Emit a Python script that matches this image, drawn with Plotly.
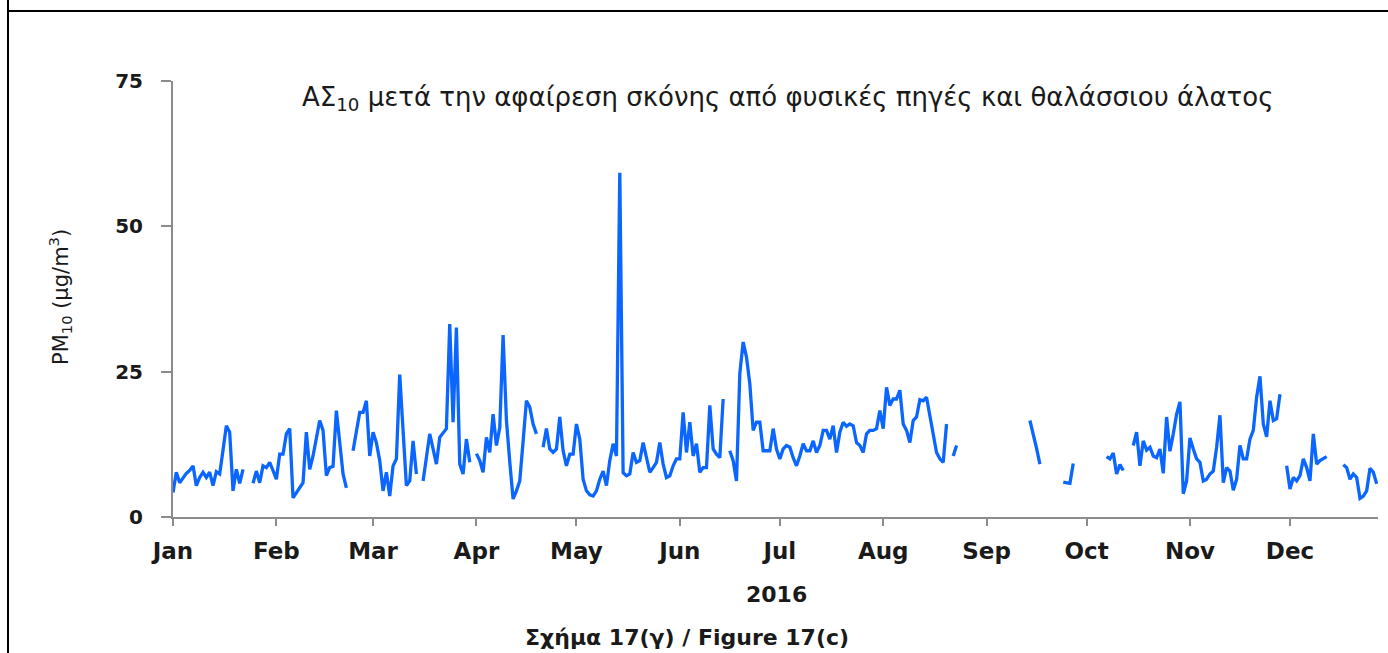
import pandas as pd
import plotly.graph_objects as go

# ---- figure geometry (pixels) ----
FIG_W, FIG_H = 1388, 653
M_L, M_R, M_T, M_B = 173, 10, 81, 136
PLOT_W = FIG_W - M_L - M_R
PLOT_H = FIG_H - M_T - M_B


def px_x(x):
    return (x - M_L) / PLOT_W


def px_y(y):
    return (FIG_H - M_B - y) / PLOT_H


# ---- daily PM10 (ug/m3), 2016, after removal of natural dust and sea salt ----
# each block is a run of consecutive days starting on the given date
start_0101 = "2016-01-01"
pm_0101 = [4.2, 7.7, 5.9, 6.8, 7.5, 8.0, 8.8, 5.4, 6.8, 7.7, 6.8, 7.7, 5.4, 7.8, 7.4,
           11.5, 15.7, 14.6, 4.5, 8.2, 5.8, 8.2]
start_0125 = "2016-01-25"
pm_0125 = [5.8, 7.9, 5.9, 8.8, 8.5, 9.4, 8.0, 6.5, 10.8, 10.8, 14.3, 15.2, 3.3, 4.2, 5.0,
           5.9, 14.6, 8.2, 10.5, 13.5, 16.6, 14.9, 7.1, 8.5, 8.7, 18.3, 13.1, 7.4, 5.0]
start_0224 = "2016-02-24"
pm_0224 = [11.4, 14.9, 18.0, 18.0, 20.0, 10.5, 14.6, 12.8, 9.7, 4.5, 7.7, 3.6, 8.8, 10.0,
           24.5, 14.9, 5.4, 6.2, 13.1, 7.4]
start_0316 = "2016-03-16"
pm_0316 = [6.2, 10.2, 14.3, 11.7, 9.1, 13.7, 14.5, 15.2, 33.2, 16.3, 32.6, 9.1, 7.4, 13.4, 9.4]
start_0401 = "2016-04-01"
pm_0401 = [10.9, 9.7, 7.7, 13.7, 11.1, 17.7, 12.3, 15.4, 31.3, 16.6, 9.5, 3.1, 4.5, 6.2,
           13.0, 20.0, 18.9, 16.0, 14.3]
start_0421 = "2016-04-21"
pm_0421 = [12.0, 15.2, 11.7, 11.1, 11.7, 17.2, 11.4, 8.8, 10.8, 10.8, 16.0, 13.4, 6.5, 4.5,
           3.8, 3.6, 4.5, 6.5, 7.9, 5.4, 9.7, 12.6, 10.5, 59.2, 7.6, 7.1, 7.4, 11.1, 9.4,
           9.7, 12.8, 10.2, 7.7, 8.5, 9.4, 12.8, 9.1, 6.8, 7.1, 8.8, 10.0, 10.0, 18.0, 11.1,
           16.3, 10.5, 12.6, 7.7, 8.5, 8.5, 19.2, 11.7, 10.8, 10.2, 20.3]
start_0616 = "2016-06-16"
pm_0616 = [11.4, 9.7, 6.2, 24.7, 30.1, 27.5, 22.9, 14.9, 16.3, 16.3, 11.4, 11.4, 11.4, 15.2,
           11.7, 10.0, 11.7, 12.3, 12.0, 10.2, 8.8, 10.5, 12.6, 11.4, 11.4, 13.1, 11.1, 12.3,
           14.9, 14.9, 13.4, 15.7, 11.1, 14.6, 16.3, 15.6, 16.0, 15.7, 12.8, 12.3, 11.1, 14.3,
           14.9, 14.9, 15.2, 18.3, 15.2, 22.3, 19.2, 20.3, 20.3, 21.8, 16.0, 14.9, 12.8, 16.6,
           17.2, 20.2, 20.0, 20.6, 17.2, 13.7, 11.1, 10.0, 9.4, 16.0]
start_0822 = "2016-08-22"
pm_0822 = [10.5, 12.3]
start_0914 = "2016-09-14"
pm_0914 = [16.6, 14.3, 11.8, 9.1]
start_0924 = "2016-09-24"
pm_0924 = [6.0, 5.9, 5.8, 9.2]
start_1007 = "2016-10-07"
pm_1007 = [10.4, 10.0, 11.0, 7.4, 9.0, 8.0]
start_1015 = "2016-10-15"
pm_1015 = [12.3, 14.6, 8.8, 13.1, 11.5, 12.0, 10.5, 10.2, 11.7, 7.5, 17.2, 11.3, 14.3, 17.7,
           19.8, 4.0, 6.2, 13.6, 11.7, 10.0, 9.4, 6.2, 6.5, 7.4, 7.9, 12.0, 17.5, 5.9, 8.5,
           7.9, 4.6, 6.5, 12.3, 10.0, 10.0, 13.4, 14.9, 20.6, 24.2, 16.0, 13.8, 20.0, 16.6,
           16.9, 21.1]
start_1130 = "2016-11-30"
pm_1130 = [8.8, 4.8, 6.8, 6.2, 7.1, 10.0, 8.5, 6.2, 14.3, 9.1, 9.7, 10.0, 10.4]
start_1217 = "2016-12-17"
pm_1217 = [9.0, 8.5, 6.5, 7.4, 6.8, 3.2, 3.6, 4.5, 8.4, 7.7, 5.7]

month_ticks = [f"2016-{m:02d}-01" for m in range(1, 13)]
month_labels = ["Jan", "Feb", "Mar", "Apr", "May", "Jun",
                "Jul", "Aug", "Sep", "Oct", "Nov", "Dec"]
y_ticks = [0, 25, 50, 75]

runs = [
    (start_0101, pm_0101), (start_0125, pm_0125), (start_0224, pm_0224),
    (start_0316, pm_0316), (start_0401, pm_0401), (start_0421, pm_0421),
    (start_0616, pm_0616), (start_0822, pm_0822), (start_0914, pm_0914),
    (start_0924, pm_0924), (start_1007, pm_1007), (start_1015, pm_1015),
    (start_1130, pm_1130), (start_1217, pm_1217),
]

# join the runs into one series; a None after each run breaks the line
xs, ys = [], []
for start, vals in runs:
    days = pd.date_range(start, periods=len(vals), freq="D")
    xs.extend(d.strftime("%Y-%m-%d") for d in days)
    ys.extend(vals)
    xs.append((days[-1] + pd.Timedelta(days=1)).strftime("%Y-%m-%d"))
    ys.append(None)

AXIS_GREY = "#8c8c8c"
TEXT = "#1a1a1a"
FONT = "DejaVu Sans"

fig = go.Figure()
fig.add_trace(go.Scatter(
    x=xs, y=ys, mode="lines", connectgaps=False,
    line=dict(color="#0a66ff", width=3.3),
    hoverinfo="skip", showlegend=False,
))

fig.update_layout(
    width=FIG_W, height=FIG_H,
    margin=dict(l=M_L, r=M_R, t=M_T, b=M_B, pad=0),
    paper_bgcolor="white", plot_bgcolor="white",
    font=dict(family=FONT, color=TEXT),
    xaxis=dict(
        type="date",
        range=["2016-01-01", "2016-12-27 09:36"],
        tickvals=month_ticks, ticktext=month_labels,
        ticks="outside", ticklen=7, tickwidth=2, tickcolor=AXIS_GREY,
        showline=True, linecolor=AXIS_GREY, linewidth=2,
        showgrid=False, zeroline=False,
        tickfont=dict(family=FONT, size=23, color=TEXT, weight="bold"),
        ticklabelstandoff=5,
    ),
    yaxis=dict(
        range=[0, 75],
        tickvals=y_ticks,
        ticks="outside", ticklen=10, tickwidth=2, tickcolor=AXIS_GREY,
        showline=True, linecolor=AXIS_GREY, linewidth=2,
        showgrid=False, zeroline=False,
        tickfont=dict(family=FONT, size=20, color=TEXT, weight="bold"),
        ticklabelstandoff=14,
    ),
)

annotations = [
    dict(text="ΑΣ<sub>10</sub> μετά την αφαίρεση σκόνης από φυσικές πηγές και θαλάσσιου άλατος",
         x=px_x(787), y=px_y(98), yanchor="middle",
         font=dict(family=FONT, size=26, color=TEXT)),
    dict(text="PM<sub>10</sub> (μg/m<sup>3</sup>)", textangle=-90,
         x=px_x(60), y=px_y(297), yanchor="middle",
         font=dict(family=FONT, size=21, color=TEXT)),
    dict(text="<b>2016</b>", x=px_x(776), y=px_y(594), yanchor="middle",
         font=dict(family=FONT, size=22, color=TEXT)),
    dict(text="<b>Σχήμα 17(γ) / Figure 17(c)</b>", x=px_x(687), y=px_y(652),
         yanchor="bottom", font=dict(family=FONT, size=22, color=TEXT)),
]
for a in annotations:
    a.update(xref="paper", yref="paper", showarrow=False, xanchor="center")
fig.update_layout(annotations=annotations)

# page frame: left rule and top rule
fig.update_layout(shapes=[
    dict(type="line", xref="paper", yref="paper",
         x0=px_x(8), x1=px_x(8), y0=px_y(0), y1=px_y(FIG_H),
         line=dict(color="black", width=2)),
    dict(type="line", xref="paper", yref="paper",
         x0=px_x(8), x1=px_x(FIG_W), y0=px_y(11), y1=px_y(11),
         line=dict(color="black", width=2)),
])

fig.write_html("out.html")
